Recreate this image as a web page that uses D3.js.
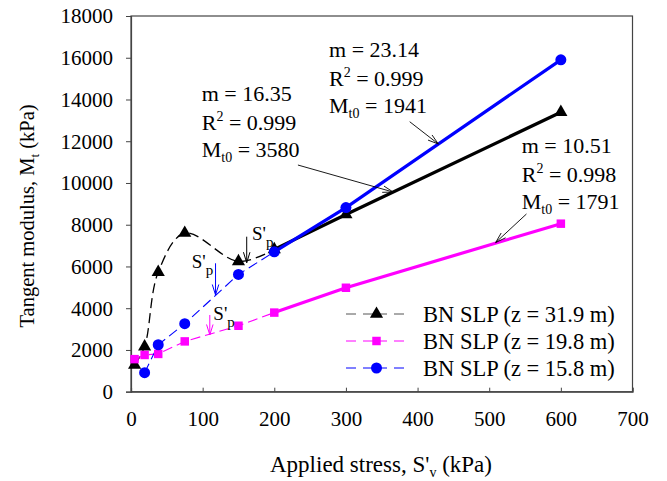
<!DOCTYPE html>
<html><head><meta charset="utf-8">
<script src="https://cdn.jsdelivr.net/npm/d3@7"></script>
<style>body{margin:0;background:#fff}svg{display:block}svg text{font-family:"Liberation Serif","Times New Roman",serif !important;fill:#000}</style>
</head><body><svg id="c" width="667" height="481"></svg>
<script>
const stress = [5, 19, 38, 75, 150, 200, 300, 600];
const m319 = [1280, 2160, 5730, 7600, 6240, 6820, 8490, 13390];
const m198 = [1560, 1760, 1810, 2410, 3160, 3790, 4980, 8050];
const m158 = [null, 910, 2250, 3260, 5620, 6700, 8820, 15900];
const xTicks = [0,100,200,300,400,500,600,700];
const yTicks = [0,2000,4000,6000,8000,10000,12000,14000,16000,18000];
const seriesNames = ["BN SLP (z = 31.9 m)","BN SLP (z = 19.8 m)","BN SLP (z = 15.8 m)"];
const colors = ["#000000","#ff00ff","#0000ff"];
const fits = [{m:"16.35",r:"0.999",t:"3580"},{m:"10.51",r:"0.998",t:"1791"},{m:"23.14",r:"0.999",t:"1941"}];
// annotation label anchors and leader arrows, in data units
const labelPos = [[98.7,13942],[545.4,11422],[276.4,16022]];
const leaders = [[[233,10860],[366,9564]],[[552,8514],[509,7146]],[[389,12935],[429,11868]]];
const spArrows = [[[161.5,7426],[161.5,6180]],[[110,3675],[110,2717]],[[118,6152],[118,4633]]];
const spLabels = [[168.9,7268],[114.9,3435],[84.7,5912]];

const svg = d3.select("#c");
const L=131,R=632.5,T=16,B=391.7;
const x = d3.scaleLinear().domain([0,700]).range([L,R]);
const y = d3.scaleLinear().domain([0,18000]).range([B,T]);
const FONT = "Liberation Serif, Times New Roman, serif";

svg.append("rect").attr("x",L).attr("y",T).attr("width",R-L).attr("height",B-T)
  .attr("fill","none").attr("stroke","#444").attr("stroke-width",1.2);
const gx = svg.append("g").attr("transform",`translate(0,${B})`)
  .call(d3.axisBottom(x).tickValues(xTicks).tickSize(-4).tickPadding(34).tickFormat(d3.format("d")));
const gy = svg.append("g").attr("transform",`translate(${L},0)`)
  .call(d3.axisLeft(y).tickValues(yTicks).tickSize(5).tickPadding(13).tickFormat(d3.format("d")));
[gx,gy].forEach(g=>{g.attr("font-family",FONT).style("font-family",FONT);
  g.select(".domain").attr("stroke","#444").attr("stroke-width",1.2);
  g.selectAll(".tick line").attr("stroke","#444");
  g.selectAll("text").attr("font-size",21).style("font-family",FONT).attr("fill","#000");});
gx.selectAll("text").attr("dy","0");
gy.selectAll("text").attr("dy","0.33em");

const xt = svg.append("text").attr("x",381).attr("y",472).attr("text-anchor","middle").attr("font-size",23);
xt.append("tspan").text("Applied stress, S'");
xt.append("tspan").text("v").attr("font-size",14).attr("dy",5);
xt.append("tspan").text(" (kPa)").attr("dy",-5);
const yt = svg.append("text").attr("transform","translate(34,216) rotate(-90)").attr("text-anchor","middle").attr("font-size",20.5);
yt.append("tspan").text("Tangent modulus, M");
yt.append("tspan").text("t").attr("font-size",13).attr("dy",5);
yt.append("tspan").text("  (kPa)").attr("dy",-5);

const all = [m319,m198,m158];
const pts = all.map(v=>stress.map((s,i)=>({s,v:v[i]})).filter(d=>d.v!=null));

pts.forEach((p,k)=>{
  const early = p.filter(d=>d.s<=200);
  const line = d3.line().x(d=>x(d.s)).y(d=>y(d.v)).curve(k===0?d3.curveCatmullRom.alpha(0.5):d3.curveLinear);
  svg.append("path").attr("d",line(early)).attr("fill","none").attr("stroke",colors[k])
    .attr("stroke-width",k===0?1.3:1.1).attr("stroke-dasharray","10,5");
});
pts.forEach((p,k)=>{
  const late = p.filter(d=>d.s>=200);
  const line = d3.line().x(d=>x(d.s)).y(d=>y(d.v));
  svg.append("path").attr("d",line(late)).attr("fill","none").attr("stroke",colors[k]).attr("stroke-width",3.2);
});

const sym = [d3.symbolTriangle,d3.symbolSquare,d3.symbolCircle];
const symSize = [75,72,95];
function drawMarker(g,k,cx,cy){
  g.append("path").attr("d",d3.symbol().type(sym[k]).size(symSize[k])())
   .attr("transform",`translate(${cx},${cy})`).attr("fill",colors[k]);
}
[0,1,2].forEach(k=>pts[k].forEach(d=>drawMarker(svg,k,x(d.s),y(d.v))));

function arrow(x1,y1,x2,y2,color,w){
  svg.append("line").attr("x1",x1).attr("y1",y1).attr("x2",x2).attr("y2",y2).attr("stroke",color).attr("stroke-width",w);
  const a=Math.atan2(y2-y1,x2-x1), h=11, sp=0.3;
  [a+Math.PI-sp,a+Math.PI+sp].forEach(b=>{
    svg.append("line").attr("x1",x2).attr("y1",y2).attr("x2",x2+h*Math.cos(b)).attr("y2",y2+h*Math.sin(b))
      .attr("stroke",color).attr("stroke-width",w);
  });
}
leaders.forEach(l=>arrow(x(l[0][0]),y(l[0][1]),x(l[1][0]),y(l[1][1]),"#000",0.9));
spArrows.forEach((l,k)=>arrow(x(l[0][0]),y(l[0][1]),x(l[1][0]),y(l[1][1]),colors[k],1));

spLabels.forEach(p=>{
  const t=svg.append("text").attr("x",x(p[0])).attr("y",y(p[1])).attr("font-size",19);
  t.append("tspan").text("S'");
  t.append("tspan").text("p").attr("font-size",15).attr("dy",7);
});

fits.forEach((f,k)=>{
  const x0=x(labelPos[k][0]), y0=y(labelPos[k][1]);
  const g=svg.append("g");
  g.append("text").attr("x",x0).attr("y",y0).attr("font-size",22).text("m = "+f.m);
  const t2=g.append("text").attr("x",x0).attr("y",y0+29).attr("font-size",22);
  t2.append("tspan").text("R");
  t2.append("tspan").text("2").attr("font-size",14).attr("dy",-9);
  t2.append("tspan").text(" = "+f.r).attr("dy",9);
  const t3=g.append("text").attr("x",x0).attr("y",y0+56).attr("font-size",22);
  t3.append("tspan").text("M");
  t3.append("tspan").text("t0").attr("font-size",14).attr("dy",5);
  t3.append("tspan").text(" = "+f.t).attr("dy",-5);
});

const legY=[314,341,368];
seriesNames.forEach((n,k)=>{
  const g=svg.append("g").attr("transform",`translate(0,${legY[k]})`);
  g.append("line").attr("x1",346).attr("x2",404).attr("y1",0).attr("y2",0)
    .attr("stroke",k===0?"#555":colors[k]).attr("stroke-width",1).attr("stroke-dasharray","10,7,24,7,10");
  drawMarker(g,k,376.5,0);
  g.append("text").attr("x",423).attr("y",7.5).attr("font-size",22.5).text(n);
});
</script></body></html>
